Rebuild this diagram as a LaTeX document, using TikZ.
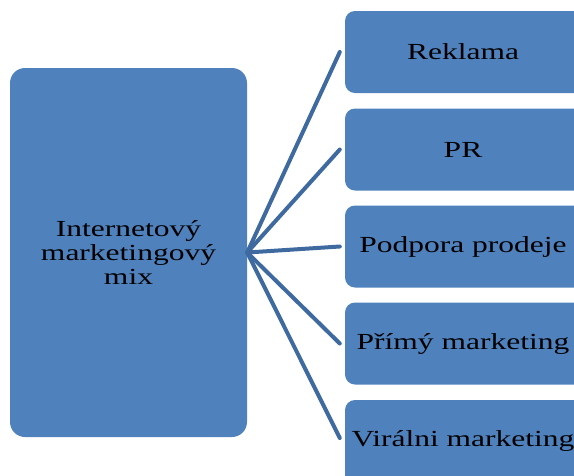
\documentclass[tikz,border=0pt]{standalone}
\usepackage{fontspec}
\setmainfont{Liberation Serif}[FakeStretch=1.37]
\definecolor{boxblue}{RGB}{79,129,189}
\definecolor{lineblue}{RGB}{62,106,160}
\begin{document}
\begin{tikzpicture}[x=1pt,y=-1pt, font=\fontsize{23}{24}\selectfont, line join=round, line cap=round,
	mixbox/.style={fill=boxblue, rounded corners=15pt, minimum width=237pt, minimum height=369pt, align=center, inner sep=0pt},
	itembox/.style={fill=boxblue, rounded corners=10pt, minimum width=260pt, minimum height=82pt, inner sep=0pt},
	tag/.style={xshift=-12pt, inner sep=0pt},
	spoke/.style={draw=lineblue, line width=4pt}]
	\useasboundingbox (0,0) rectangle (574,475);
	\clip (0,0) rectangle (574,475);
	% Levy blok
	\node[mixbox] (mix) at (128.5,252.5) {Internetový\\marketingový\\mix};
	% Prave bloky
	\node[itembox, label={[tag]center:Reklama}] (rek) at (475,52) {};
	\node[itembox, label={[tag]center:PR}] (pr) at (475,149.5) {};
	\node[itembox, label={[tag]center:Podpora prodeje}] (pod) at (475,246.5) {};
	\node[itembox, label={[tag]center:Přímý marketing}] (pri) at (475,343.5) {};
	\node[itembox, minimum height=92pt, label={[tag,yshift=5pt]center:Virálni marketing}] (vir) at (475,446) {};
	\foreach \n in {rek,pr,pod,pri}
		\draw[spoke] (mix.east) -- ([xshift=-5pt]\n.west);
	\draw[spoke] (mix.east) -- ([xshift=-5pt,yshift=8pt]vir.west);
\end{tikzpicture}
\end{document}
